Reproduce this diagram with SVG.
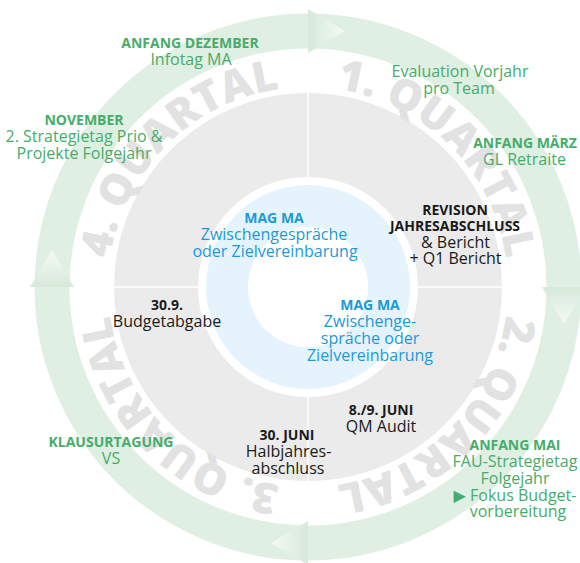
<svg xmlns="http://www.w3.org/2000/svg" width="580" height="563" viewBox="0 0 580 563">
<defs>
<style>
text{font-family:"Open Sans","Liberation Sans","DejaVu Sans",sans-serif;text-anchor:middle}
.b{font-weight:700;font-size:14px}
.r{font-size:16px}
.g{fill:#45ad69}
.k{fill:#1a1a1a}
.bl{fill:#1b9ad6}
.q{font-weight:800;font-size:43px;fill:#e2e2e2}
.div{stroke:#ffffff;stroke-width:1.5}
</style>
<linearGradient id="gR" x1="0" y1="0" x2="1" y2="0"><stop offset="0" stop-color="#d6e9da"/><stop offset="1" stop-color="#f4faf5"/></linearGradient>
<linearGradient id="gD" x1="0" y1="0" x2="0" y2="1"><stop offset="0" stop-color="#d6e9da"/><stop offset="1" stop-color="#f4faf5"/></linearGradient>
<linearGradient id="gL" x1="1" y1="0" x2="0" y2="0"><stop offset="0" stop-color="#d6e9da"/><stop offset="1" stop-color="#f4faf5"/></linearGradient>
<linearGradient id="gU" x1="0" y1="1" x2="0" y2="0"><stop offset="0" stop-color="#d6e9da"/><stop offset="1" stop-color="#f4faf5"/></linearGradient>
<path id="p1" d="M308,87 A200,200 0 0 1 508,287"/>
<path id="p2" d="M508,287 A200,200 0 0 1 308,487"/>
<path id="p3" d="M308,487 A200,200 0 0 1 108,287"/>
<path id="p4" d="M108,287 A200,200 0 0 1 308,87"/>
</defs>

<g id="connectors">
<circle cx="308" cy="287" r="256" fill="none" stroke="#e0efe3" stroke-width="35"/>
<polygon points="308,9 308,53 345,31" fill="url(#gR)"/>
<polygon points="586,287 542,287 564,324" fill="url(#gD)"/>
<polygon points="308,565 308,521 271,543" fill="url(#gL)"/>
<polygon points="30,287 74,287 52,250" fill="url(#gU)"/>
</g>

<g id="disc">
<circle cx="308" cy="287" r="194" fill="#ebebeb"/>
<line class="div" x1="308" y1="92" x2="308" y2="482"/>
<line class="div" x1="113" y1="287" x2="503" y2="287"/>
<circle cx="308" cy="287" r="110" fill="#ffffff"/>
<circle cx="308" cy="287" r="102" fill="#e5f3fc"/>
<circle cx="308" cy="287" r="60" fill="#ffffff"/>
</g>

<g id="quarters">
<text class="q"><textPath href="#p1" startOffset="50%">1. QUARTAL</textPath></text>
<text class="q"><textPath href="#p2" startOffset="50%">2. QUARTAL</textPath></text>
<text class="q"><textPath href="#p3" startOffset="50%">3. QUARTAL</textPath></text>
<text class="q"><textPath href="#p4" startOffset="50%">4. QUARTAL</textPath></text>
</g>

<g id="dezember">
<text class="b g" x="190" y="48">ANFANG DEZEMBER</text>
<text class="r g" x="191" y="65">Infotag MA</text>
</g>
<g id="november">
<text class="b g" x="84" y="125">NOVEMBER</text>
<text class="r g" x="84" y="142">2. Strategietag Prio &amp;</text>
<text class="r g" x="84" y="159">Projekte Folgejahr</text>
</g>
<g id="evaluation">
<text class="r g" x="460" y="77">Evaluation Vorjahr</text>
<text class="r g" x="459" y="94">pro Team</text>
</g>
<g id="maerz">
<text class="b g" x="525" y="148">ANFANG MÄRZ</text>
<text class="r g" x="524.5" y="165">GL Retraite</text>
</g>
<g id="revision">
<text class="b k" x="455" y="215">REVISION</text>
<text class="b k" x="455" y="231">JAHRESABSCHLUSS</text>
<text class="r k" x="455.5" y="247.5">&amp; Bericht</text>
<text class="r k" x="455.5" y="264">+ Q1 Bericht</text>
</g>
<g id="mag1">
<text class="b bl" x="274" y="223">MAG MA</text>
<text class="r bl" x="274" y="240">Zwischengespräche</text>
<text class="r bl" x="275" y="257">oder Zielvereinbarung</text>
</g>
<g id="mag2">
<text class="b bl" x="370" y="310">MAG MA</text>
<text class="r bl" x="370" y="327">Zwischenge-</text>
<text class="r bl" x="370" y="343.5">spräche oder</text>
<text class="r bl" x="370" y="360.5">Zielvereinbarung</text>
</g>
<g id="budget">
<text class="b k" x="167" y="310">30.9.</text>
<text class="r k" x="167" y="326.5">Budgetabgabe</text>
</g>
<g id="klausur">
<text class="b g" x="111" y="447">KLAUSURTAGUNG</text>
<text class="r g" x="111" y="464">VS</text>
</g>
<g id="halbjahr">
<text class="b k" x="287" y="440">30. JUNI</text>
<text class="r k" x="288.5" y="457">Halbjahres-</text>
<text class="r k" x="288" y="474">abschluss</text>
</g>
<g id="audit">
<text class="b k" x="381" y="415">8./9. JUNI</text>
<text class="r k" x="381" y="432">QM Audit</text>
</g>
<g id="mai">
<text class="b g" x="515" y="450">ANFANG MAI</text>
<text class="r g" x="515" y="467">FAU-Strategietag</text>
<text class="r g" x="515" y="483.5">Folgejahr</text>
<text class="r g" x="515" y="500.5">▶ Fokus Budget-</text>
<text class="r g" x="518" y="517">vorbereitung</text>
</g>
</svg>
